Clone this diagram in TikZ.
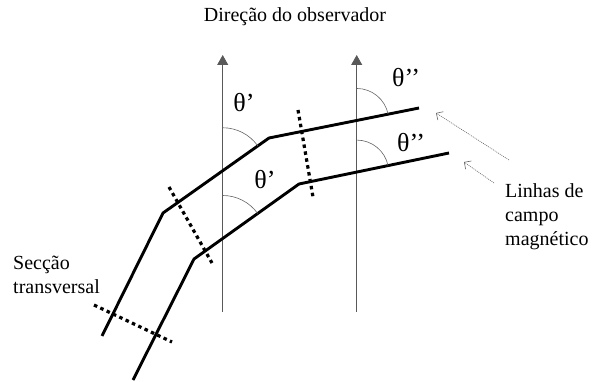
\documentclass[tikz,border=0pt]{standalone}
\usepackage{fontspec}
\setmainfont{Liberation Serif}
\usetikzlibrary{arrows.meta,angles,calc}

\begin{document}
\begin{tikzpicture}[x=1pt,y=1pt,line cap=butt,
  every node/.style={font=\fontsize{20}{24}\selectfont,inner sep=0pt},
  field/.style={line width=2.9pt},
  axis/.style={draw=black!65,line width=0.9pt,-{Triangle[length=10pt,width=11pt]}},
  cut/.style={line width=3.2pt,dash pattern=on 3.5pt off 3.5pt},
  ang/.style={draw=black!60,line width=0.6pt},
  ptr/.style={draw=black!60,line width=0.6pt,dash pattern=on 1pt off 1pt,-{Straight Barb[length=5pt,width=10pt]}},
  thlab/.style={font=\fontsize{26}{30}\selectfont}]
  \useasboundingbox (0,0) rectangle (596,382);

  % observer directions
  \coordinate (L0) at (222.7,70);  \coordinate (L1) at (222.7,327);
  \coordinate (R0) at (356.7,70);  \coordinate (R1) at (356.7,327);
  \draw[axis] (L0) -- (L1);
  \draw[axis] (R0) -- (R1);

  % field lines
  \coordinate (A0) at (102,46);  \coordinate (A1) at (163,169);
  \coordinate (A2) at (269,244); \coordinate (A3) at (419,274);
  \coordinate (B0) at (133,2);   \coordinate (B1) at (194,123);
  \coordinate (B2) at (299,198); \coordinate (B3) at (449,229);
  \draw[field] (A0) -- (A1) -- (A2) -- (A3);
  \draw[field] (B0) -- (B1) -- (B2) -- (B3);

  % angles with the line of sight
  \coordinate (va) at (intersection of A1--A2 and L0--L1);
  \coordinate (vb) at (intersection of B1--B2 and L0--L1);
  \coordinate (vc) at (intersection of A2--A3 and R0--R1);
  \coordinate (vd) at (intersection of B2--B3 and R0--R1);
  \foreach \v/\p/\q/\r in {va/A2/L1/43,vb/B2/L1/43,vc/A3/R1/32,vd/B3/R1/32}{
    \pic[ang,angle radius=\r pt] {angle=\p--\v--\q};
  }
  \node[thlab] (t1) at (244,279) {θ’};
  \node[thlab] (t2) at (265,202) {θ’};
  \node[thlab] (t3) at (406,304) {θ’’};
  \node[thlab] (t4) at (411,239) {θ’’};

  % cross sections
  \foreach \i/\ax/\ay/\bx/\by in {1/94/77/172/40,2/169/195/212/119,3/298/272/313/185}{
    \coordinate (cs\i-a) at (\ax,\ay);
    \coordinate (cs\i-b) at (\bx,\by);
    \draw[cut] (cs\i-a) -- (cs\i-b);
  }

  % labels
  \node (obs) at (295,365) {Direção do observador};
  \node[align=left,anchor=north west] (secao) at (13,126) {Secção\\transversal};
  \node[align=left,anchor=north west] (linhas) at (505,199) {Linhas de\\campo\\magnético};

  \coordinate (p1) at (509,222); \coordinate (q1) at (436,269);
  \coordinate (p2) at (494,199); \coordinate (q2) at (464,220);
  \draw[ptr] (p1) -- (q1);
  \draw[ptr] (p2) -- (q2);
\end{tikzpicture}
\end{document}
